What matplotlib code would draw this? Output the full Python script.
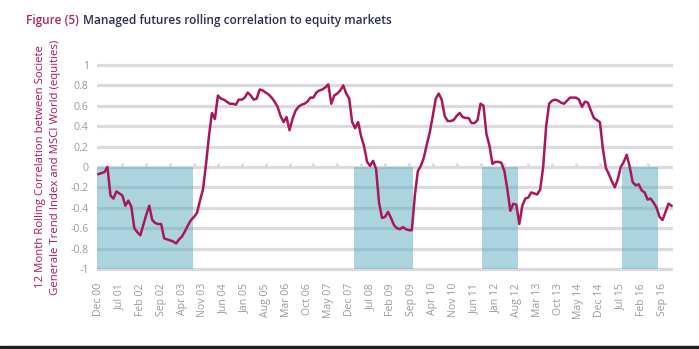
import numpy as np
import pandas as pd
import matplotlib
matplotlib.use("Agg")
import matplotlib.pyplot as plt
from matplotlib.patches import Rectangle

plt.rcParams['font.family'] = ['Open Sans', 'DejaVu Sans']

# monthly 12m rolling correlation, Dec 2000 .. Dec 2016
start_month = "2000-12"
correlation = [
    -0.07, -0.06, -0.05, 0.00, -0.28, -0.31, -0.24, -0.26, -0.28, -0.38,
    -0.33, -0.39, -0.60, -0.64, -0.67, -0.57, -0.47, -0.38, -0.52, -0.55,
    -0.56, -0.56, -0.70, -0.71, -0.72, -0.73, -0.75, -0.71, -0.68, -0.63,
    -0.57, -0.52, -0.49, -0.45, -0.33, -0.22, 0.02, 0.30, 0.53, 0.47,
    0.70, 0.67, 0.66, 0.64, 0.62, 0.62, 0.61, 0.66, 0.66, 0.68,
    0.73, 0.70, 0.66, 0.67, 0.76, 0.75, 0.73, 0.71, 0.68, 0.64,
    0.59, 0.50, 0.44, 0.49, 0.36, 0.47, 0.55, 0.59, 0.61, 0.62,
    0.64, 0.68, 0.68, 0.73, 0.75, 0.76, 0.78, 0.81, 0.62, 0.70,
    0.72, 0.75, 0.80, 0.72, 0.67, 0.44, 0.38, 0.44, 0.30, 0.20,
    0.05, 0.01, 0.06, -0.02, -0.35, -0.50, -0.49, -0.44, -0.50, -0.57,
    -0.60, -0.61, -0.59, -0.61, -0.62, -0.62, -0.28, -0.04, 0.01, 0.09,
    0.22, 0.34, 0.50, 0.67, 0.72, 0.66, 0.50, 0.45, 0.45, 0.46,
    0.50, 0.53, 0.49, 0.48, 0.48, 0.43, 0.43, 0.46, 0.62, 0.60,
    0.32, 0.21, 0.03, 0.05, 0.05, 0.04, -0.04, -0.22, -0.43, -0.36,
    -0.37, -0.56, -0.38, -0.31, -0.30, -0.25, -0.26, -0.27, -0.22, 0.00,
    0.40, 0.62, 0.65, 0.66, 0.65, 0.63, 0.62, 0.65, 0.68, 0.68,
    0.68, 0.66, 0.59, 0.64, 0.63, 0.55, 0.48, 0.46, 0.44, 0.18,
    -0.01, -0.07, -0.14, -0.20, -0.12, 0.00, 0.05, 0.12, 0.00, -0.15,
    -0.18, -0.17, -0.23, -0.25, -0.32, -0.31, -0.35, -0.40, -0.49, -0.52,
    -0.44, -0.36, -0.38,
]

# equity drawdown periods (shaded)
shade_start = ["2000-12", "2008-02", "2011-09", "2015-08"]
shade_end = ["2003-07", "2009-09", "2012-08", "2016-07"]

y_ticks = [1, 0.8, 0.6, 0.4, 0.2, 0, -0.2, -0.4, -0.6, -0.8, -1]
label_every = 7
tick_every = 8

dates = pd.period_range(start_month, periods=len(correlation), freq="M")
idx = np.arange(len(dates))
shaded = np.zeros(len(dates), dtype=bool)
for s, e in zip(shade_start, shade_end):
    shaded |= (dates >= pd.Period(s, "M")) & (dates <= pd.Period(e, "M"))

line_col = "#a8175c"
grid_col = "#dadadf"
shade_col = "#5aaabe"
text_grey = "#9a9a9a"

fig = plt.figure(figsize=(6.99, 3.49), dpi=100)
ax = fig.add_axes([0.1388, 0.2206, 0.8240, 0.6020])

for v in y_ticks:
    ax.axhline(v, color=grid_col, lw=2.3, zorder=1)

ax.bar(idx[shaded], -1, width=1.0, bottom=0, color=shade_col, alpha=0.5,
       linewidth=0, zorder=2)
ax.plot(idx, correlation, color=line_col, lw=1.8, zorder=3)

ax.set_xlim(-0.5, len(dates) - 0.5)
ax.set_ylim(-1.03, 1.03)
for sp in ax.spines.values():
    sp.set_visible(False)

ax.set_yticks(y_ticks)
ax.set_yticklabels([f"{v:g}" for v in y_ticks])
ax.tick_params(axis="y", length=0, pad=6, labelsize=7.6, labelcolor=text_grey)

lab_pos = idx[::label_every]
ax.set_xticks(lab_pos)
ax.set_xticklabels([d.strftime("%b %y") for d in dates[::label_every]],
                   rotation=90)
ax.tick_params(axis="x", length=0, pad=8, labelsize=7.6, labelcolor=text_grey)

# small tick marks on the zero line
sec = ax.secondary_xaxis(0.5)
sec.set_xticks(idx[tick_every:-1:tick_every])
sec.set_xticklabels([])
sec.tick_params(axis="x", direction="out", length=3, width=2, color=grid_col)
for sp in sec.spines.values():
    sp.set_visible(False)

ax.set_ylabel("12 Month Rolling Correlation between Societe\n"
              "Generale Trend Index and MSCI World (equities)",
              color=line_col, fontsize=8.2, labelpad=7, linespacing=1.45)

fig.text(0.037, 0.932, "Figure (5)", color="#b0245f", fontsize=8.6,
         fontweight="semibold", va="baseline")
fig.text(0.119, 0.932, "Managed futures rolling correlation to equity markets",
         color="#2b2d55", fontsize=8.6, fontweight="semibold", va="baseline")

fig.patches.append(Rectangle((0, 0), 1, 3 / 349, transform=fig.transFigure,
                             color="#1e1e1e", zorder=0))

fig.savefig("out.png", dpi=100)
